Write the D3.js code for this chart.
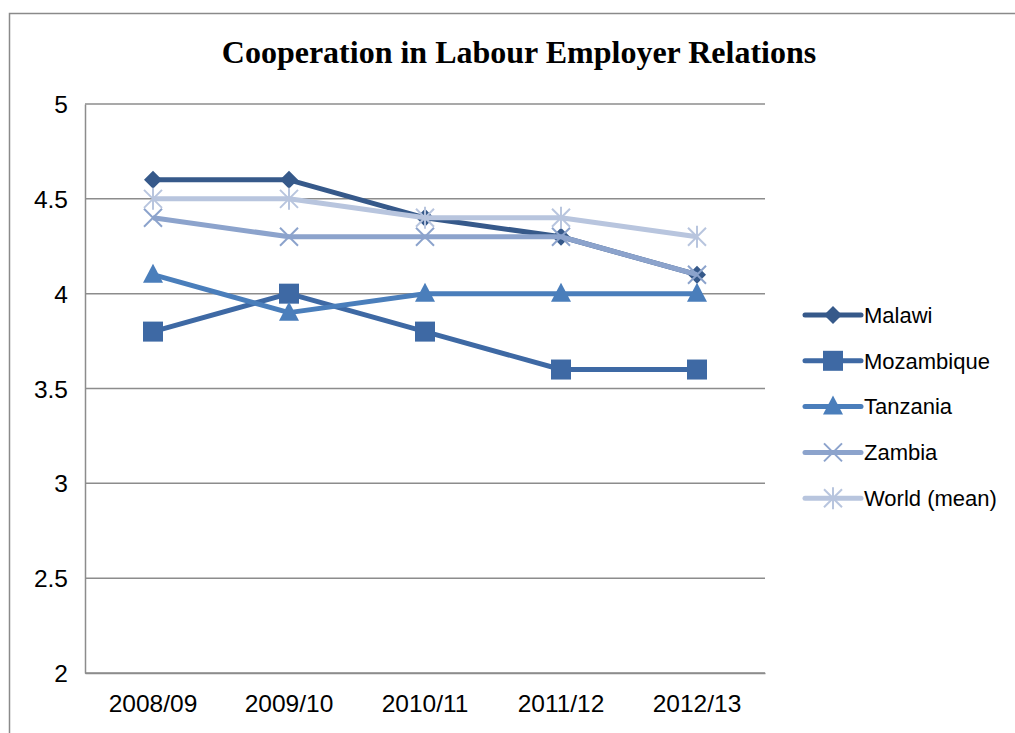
<!DOCTYPE html>
<html>
<head>
<meta charset="utf-8">
<script src="https://cdn.jsdelivr.net/npm/d3@7"></script>
<style>
  body { margin: 0; background: #fff; }
  svg { display: block; }
</style>
</head>
<body>
<div id="chart"></div>
<script>
// Chart data
var years = ["2008/09", "2009/10", "2010/11", "2011/12", "2012/13"];
var seriesNames = ["Malawi", "Mozambique", "Tanzania", "Zambia", "World (mean)"];
var malawi = [4.6, 4.6, 4.4, 4.3, 4.1];
var mozambique = [3.8, 4.0, 3.8, 3.6, 3.6];
var tanzania = [4.1, 3.9, 4.0, 4.0, 4.0];
var zambia = [4.4, 4.3, 4.3, 4.3, 4.1];
var world = [4.5, 4.5, 4.4, 4.4, 4.3];
var yTicks = [2, 2.5, 3, 3.5, 4, 4.5, 5];

var seriesValues = [malawi, mozambique, tanzania, zambia, world];
var colors = ["#36598a", "#3e69a4", "#4a7ebb", "#8ca3cc", "#b8c5de"];
var markers = ["diamond", "square", "triangle", "cross", "star"];

// SVG area
var svgWidth = 1015;
var svgHeight = 733;

var margin = { top: 104, right: 250, bottom: 60, left: 85 };
var chartWidth = svgWidth - margin.left - margin.right;
var chartHeight = svgHeight - margin.top - margin.bottom;

var svg = d3.select("#chart")
  .append("svg")
  .attr("width", svgWidth)
  .attr("height", svgHeight);

// Outer chart border (only top and left are in view)
svg.append("rect")
  .attr("x", 9.5)
  .attr("y", 13.5)
  .attr("width", 1100)
  .attr("height", 800)
  .attr("fill", "none")
  .attr("stroke", "#8a8a8a")
  .attr("stroke-width", 1.5);

// Title
svg.append("text")
  .attr("x", 519)
  .attr("y", 63)
  .attr("text-anchor", "middle")
  .attr("font-family", "Liberation Serif, serif")
  .attr("font-weight", "bold")
  .attr("font-size", 32)
  .text("Cooperation in Labour Employer Relations");

var chartGroup = svg.append("g")
  .attr("transform", `translate(${margin.left}, ${margin.top})`);

// Scales
var xScale = d3.scaleBand()
  .domain(years)
  .range([0, chartWidth]);

var yScale = d3.scaleLinear()
  .domain([2, 5])
  .range([chartHeight, 0]);

var xPos = d => xScale(d) + xScale.bandwidth() / 2;

// Gridlines
chartGroup.selectAll(".grid")
  .data(yTicks)
  .enter()
  .append("line")
  .attr("x1", 0)
  .attr("x2", chartWidth)
  .attr("y1", d => yScale(d))
  .attr("y2", d => yScale(d))
  .attr("stroke", "#8c8c8c")
  .attr("stroke-width", 1.5);

// Axes
var leftAxis = d3.axisLeft(yScale).tickValues(yTicks).tickSize(0).tickPadding(17)
  .tickFormat(d3.format("~g"));
var bottomAxis = d3.axisBottom(xScale).tickSize(0).tickPadding(22);

var yAxisG = chartGroup.append("g").call(leftAxis);
var xAxisG = chartGroup.append("g")
  .attr("transform", `translate(0, ${chartHeight})`)
  .call(bottomAxis);

[yAxisG, xAxisG].forEach(function(g) {
  g.select(".domain").attr("stroke", "#8c8c8c").attr("stroke-width", 1.5);
  g.selectAll("text")
    .attr("font-family", "Liberation Sans, Arial, sans-serif")
    .attr("font-size", 24.5)
    .attr("fill", "#000");
});
yAxisG.selectAll("text").attr("dy", "0.35em");
xAxisG.selectAll("text").attr("dy", "0.71em");

// Marker drawing
function drawMarker(g, type, color) {
  if (type === "diamond") {
    g.append("path").attr("d", "M0,-9L9,0L0,9L-9,0Z").attr("fill", color);
  } else if (type === "square") {
    g.append("rect").attr("x", -10).attr("y", -10).attr("width", 20).attr("height", 20)
      .attr("fill", color);
  } else if (type === "triangle") {
    g.append("path").attr("d", "M0,-11L10,8L-10,8Z").attr("fill", color);
  } else if (type === "cross") {
    g.append("path").attr("d", "M-9,-9L9,9M-9,9L9,-9")
      .attr("stroke", color).attr("stroke-width", 2).attr("fill", "none");
  } else if (type === "star") {
    g.append("path").attr("d", "M-9,-9L9,9M-9,9L9,-9M0,-11L0,11")
      .attr("stroke", color).attr("stroke-width", 2).attr("fill", "none");
  }
}

var line = d3.line()
  .x((d, i) => xPos(years[i]))
  .y(d => yScale(d));

// Series lines and markers
seriesValues.forEach(function(values, s) {
  chartGroup.append("path")
    .datum(values)
    .attr("d", line)
    .attr("fill", "none")
    .attr("stroke", colors[s])
    .attr("stroke-width", 5)
    .attr("stroke-linejoin", "round");

  values.forEach(function(v, i) {
    var m = chartGroup.append("g")
      .attr("transform", `translate(${xPos(years[i])}, ${yScale(v)})`);
    drawMarker(m, markers[s], colors[s]);
  });
});

// Legend
var legend = svg.append("g").attr("transform", "translate(805, 315)");
seriesNames.forEach(function(name, s) {
  var row = legend.append("g").attr("transform", `translate(0, ${s * 45.8})`);
  row.append("line")
    .attr("x1", 0).attr("x2", 56)
    .attr("stroke", colors[s])
    .attr("stroke-width", 5)
    .attr("stroke-linecap", "round");
  var m = row.append("g").attr("transform", "translate(28, 0)");
  drawMarker(m, markers[s], colors[s]);
  row.append("text")
    .attr("x", 59)
    .attr("dy", "0.35em")
    .attr("font-family", "Liberation Sans, Arial, sans-serif")
    .attr("font-size", 22)
    .text(name);
});
</script>
</body>
</html>
